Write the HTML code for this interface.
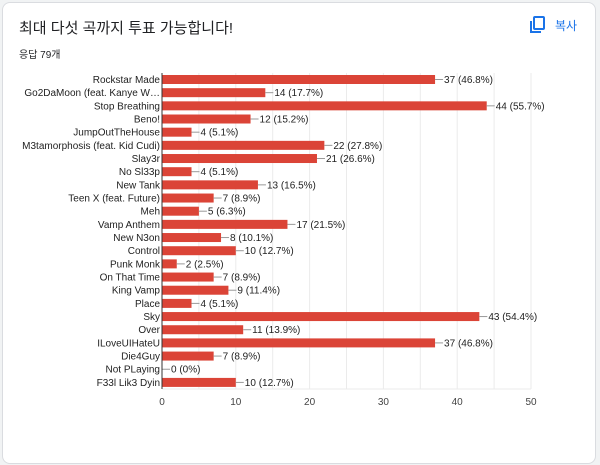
<!DOCTYPE html>
<html><head><meta charset="utf-8"><style>
body{margin:0;background:#f1f3f4;width:600px;height:465px;overflow:hidden;font-family:"Liberation Sans","Noto Sans CJK KR",sans-serif}
.card{position:absolute;left:2px;top:2px;width:592px;height:460px;background:#fff;border:1px solid #dadce0;border-radius:8px}
.t{position:absolute;left:19px;top:17px;font-size:15px;color:#202124}
.s{position:absolute;left:19px;top:46px;font-size:10px;color:#202124}
.c{position:absolute;left:555px;top:17px;font-size:12px;color:#1a73e8}
</style></head><body>
<div class="card"></div>
<div class="t">최대 다섯 곡까지 투표 가능합니다!</div>
<div class="s">응답 79개</div>
<svg style="position:absolute;left:530px;top:16px" width="16" height="18"><rect x="4" y="1" width="10" height="12" rx="1" fill="none" stroke="#1a73e8" stroke-width="2"/><path d="M1 5v11h10" fill="none" stroke="#1a73e8" stroke-width="2"/></svg>
<div class="c">복사</div>
<svg id="ch" style="position:absolute;left:0;top:0" width="600" height="465" font-family="Liberation Sans, sans-serif" font-size="10"></svg>
<script>
var d=[["Rockstar Made",37,"46.8%"],["Go2DaMoon (feat. Kanye W…",14,"17.7%"],["Stop Breathing",44,"55.7%"],["Beno!",12,"15.2%"],["JumpOutTheHouse",4,"5.1%"],["M3tamorphosis (feat. Kid Cudi)",22,"27.8%"],["Slay3r",21,"26.6%"],["No Sl33p",4,"5.1%"],["New Tank",13,"16.5%"],["Teen X (feat. Future)",7,"8.9%"],["Meh",5,"6.3%"],["Vamp Anthem",17,"21.5%"],["New N3on",8,"10.1%"],["Control",10,"12.7%"],["Punk Monk",2,"2.5%"],["On That Time",7,"8.9%"],["King Vamp",9,"11.4%"],["Place",4,"5.1%"],["Sky",43,"54.4%"],["Over",11,"13.9%"],["ILoveUIHateU",37,"46.8%"],["Die4Guy",7,"8.9%"],["Not PLaying",0,"0%"],["F33l Lik3 Dyin",10,"12.7%"]];
var x0=162,k=7.38,y0=73,h=13.17,s="";
for(var g=1;g<=10;g++){var gx=x0+g*5*k;s+='<line x1="'+gx+'" y1="'+y0+'" x2="'+gx+'" y2="389" stroke="#ebebeb"/>';}
s+='<line x1="'+x0+'" y1="389" x2="531" y2="389" stroke="#ebebeb"/>';
d.forEach(function(r,i){var cy=y0+h*i+6.5,w=r[1]*k;
s+='<rect x="'+x0+'" y="'+(cy-4.5)+'" width="'+w+'" height="9" fill="#db4437"/>';
s+='<line x1="'+(x0+w)+'" y1="'+cy+'" x2="'+(x0+w+8)+'" y2="'+cy+'" stroke="#999"/>';
s+='<text x="'+(x0+w+9)+'" y="'+(cy+3.5)+'" fill="#222">'+r[1]+' ('+r[2]+')</text>';
s+='<text x="'+(x0-2)+'" y="'+(cy+3.5)+'" fill="#222" text-anchor="end">'+r[0]+'</text>';});
s+='<line x1="'+x0+'" y1="'+y0+'" x2="'+x0+'" y2="389" stroke="#333"/>';
for(var t=0;t<=50;t+=10)s+='<text x="'+(x0+t*k)+'" y="405" fill="#444" text-anchor="middle">'+t+'</text>';
document.getElementById("ch").innerHTML=s;
</script>
</body></html>
